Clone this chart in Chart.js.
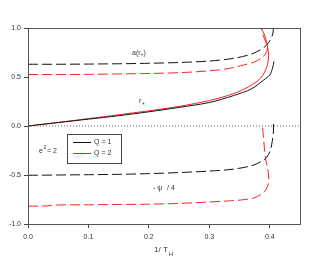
<!DOCTYPE html>
<html>
<head>
<meta charset="UTF-8">
<title>1/T_H plot</title>
<script src="https://cdn.jsdelivr.net/npm/chart.js"></script>
<style>
  body { margin: 0; background: #fff; }
  canvas { display: block; }
</style>
</head>
<body>
<canvas id="chart" width="326" height="261"></canvas>
<script>
    // r+ (solid)
    const rQ1x = [0, 0.05, 0.1, 0.15, 0.2, 0.25, 0.3, 0.34, 0.37, 0.39, 0.4, 0.405, 0.407];
    const rQ1y = [0, 0.035, 0.07, 0.105, 0.145, 0.19, 0.24, 0.31, 0.38, 0.47, 0.52, 0.6, 0.66];
    const rQ2x = [0, 0.05, 0.1, 0.15, 0.2, 0.25, 0.3, 0.34, 0.365, 0.385, 0.395, 0.398, 0.395, 0.39, 0.385];
    const rQ2y = [0, 0.037, 0.075, 0.115, 0.155, 0.2, 0.26, 0.33, 0.4, 0.49, 0.6, 0.72, 0.85, 0.95, 1.0];

    // a(r+) (dashed)
    const aQ1x = [0, 0.05, 0.1, 0.15, 0.2, 0.25, 0.3, 0.34, 0.37, 0.39, 0.4, 0.405, 0.406];
    const aQ1y = [0.63, 0.63, 0.632, 0.635, 0.64, 0.648, 0.663, 0.69, 0.735, 0.8, 0.87, 0.94, 1.0];
    const aQ2x = [0, 0.05, 0.1, 0.15, 0.2, 0.25, 0.3, 0.33, 0.355, 0.375, 0.388, 0.395, 0.396, 0.393, 0.389, 0.386];
    const aQ2y = [0.525, 0.525, 0.527, 0.531, 0.536, 0.544, 0.563, 0.585, 0.62, 0.655, 0.7, 0.76, 0.8, 0.86, 0.93, 1.0];

    // -psi/4 (dashed)
    const pQ1x = [0, 0.05, 0.1, 0.15, 0.2, 0.25, 0.3, 0.34, 0.37, 0.385, 0.395, 0.401, 0.404, 0.406, 0.406];
    const pQ1y = [-0.503, -0.5, -0.497, -0.493, -0.486, -0.475, -0.46, -0.44, -0.405, -0.365, -0.32, -0.245, -0.16, -0.06, 0.03];
    const pQ2x = [0, 0.03, 0.05, 0.1, 0.15, 0.2, 0.25, 0.3, 0.33, 0.352, 0.373, 0.39, 0.396, 0.398, 0.398, 0.396, 0.393, 0.39, 0.388];
    const pQ2y = [-0.818, -0.816, -0.806, -0.804, -0.801, -0.798, -0.79, -0.775, -0.765, -0.755, -0.735, -0.68, -0.62, -0.57, -0.5, -0.42, -0.33, -0.15, 0.0];

    const xTicks = [0, 0.1, 0.2, 0.3, 0.4];
    const yTicks = [-1, -0.5, 0, 0.5, 1];
    const legendLabels = ['Q = 1', 'Q = 2'];

    const BLACK = '#111';
    const RED = '#ff2020';
    const DASH = [10, 4];
    const FONT = '"Liberation Sans", Arial, sans-serif';

    function pts(xs, ys) {
        return xs.map((x, i) => ({ x: x, y: ys[i] }));
    }

    function line(xs, ys, color, dash) {
        return {
            data: pts(xs, ys),
            borderColor: color,
            borderWidth: 1,
            borderDash: dash || [],
            pointRadius: 0,
            showLine: true,
            tension: 0.3,
            fill: false
        };
    }

    const datasets = [
        // dotted zero line
        {
            data: pts([0, 0.45], [0, 0]),
            borderColor: '#666',
            borderWidth: 1,
            borderDash: [1, 2],
            pointRadius: 0,
            showLine: true
        },
        line(aQ1x, aQ1y, BLACK, DASH),
        line(aQ2x, aQ2y, RED, DASH),
        line(pQ1x, pQ1y, BLACK, DASH),
        line(pQ2x, pQ2y, RED, DASH),
        line(rQ1x, rQ1y, BLACK),
        line(rQ2x, rQ2y, RED)
    ];

    // texts, frame and legend box
    const extras = {
        id: 'extras',
        afterDraw(chart) {
            const ctx = chart.ctx;
            const a = chart.chartArea;
            ctx.save();
            ctx.strokeStyle = '#555';
            ctx.lineWidth = 1;
            ctx.strokeRect(Math.round(a.left) + 0.5, Math.round(a.top) + 0.5,
                Math.round(a.right - a.left), Math.round(a.bottom - a.top));

            ctx.fillStyle = '#333';
            ctx.textBaseline = 'middle';
            ctx.textAlign = 'left';

            // a(r+)
            ctx.font = '7px ' + FONT;
            ctx.fillText('a(r', 132, 53);
            let w = ctx.measureText('a(r').width;
            ctx.font = '5px ' + FONT;
            ctx.fillText('+', 132 + w, 55);
            let w2 = ctx.measureText('+').width;
            ctx.font = '7px ' + FONT;
            ctx.fillText(')', 132 + w + w2, 53);

            // r+
            ctx.fillText('r', 139, 101);
            w = ctx.measureText('r').width;
            ctx.font = '5px ' + FONT;
            ctx.fillText('+', 139 + w + 0.5, 104);

            // e^2 = 2
            ctx.font = '7px ' + FONT;
            ctx.fillText('e', 39, 151);
            w = ctx.measureText('e').width;
            ctx.font = '5px ' + FONT;
            ctx.fillText('2', 39 + w + 0.5, 148);
            ctx.font = '7px ' + FONT;
            ctx.fillText('= 2', 47, 151);

            // -psi/4
            ctx.fillText('- \u03C8', 153, 188);
            ctx.fillText('/ 4', 167, 188);

            // x axis title
            ctx.font = '8px ' + FONT;
            ctx.fillText('1/ T', 154, 250);
            w = ctx.measureText('1/ T').width;
            ctx.font = '6px ' + FONT;
            ctx.fillText('H', 154 + w + 1, 254);

            // legend
            ctx.strokeStyle = '#444';
            ctx.strokeRect(67.5, 134.5, 54, 29);
            const cols = [BLACK, RED];
            ctx.font = '7px ' + FONT;
            legendLabels.forEach((lab, i) => {
                const y = 142.5 + i * 11;
                ctx.strokeStyle = cols[i];
                ctx.beginPath();
                ctx.moveTo(73, y);
                ctx.lineTo(91, y);
                ctx.stroke();
                ctx.fillText(lab, 94, y);
            });
            ctx.restore();
        }
    };

    new Chart(document.getElementById('chart'), {
        type: 'scatter',
        data: { datasets: datasets },
        options: {
            responsive: false,
            animation: false,
            layout: { padding: { left: 0, top: 28, right: 26, bottom: 0 } },
            plugins: { legend: { display: false }, tooltip: { enabled: false } },
            scales: {
                x: {
                    type: 'linear',
                    min: 0,
                    max: 0.45,
                    afterBuildTicks: s => { s.ticks = xTicks.map(v => ({ value: v })); },
                    afterFit: s => { s.height = 37; },
                    grid: { drawOnChartArea: false, drawTicks: true, tickLength: 4, color: '#444' },
                    border: { display: true, color: '#444' },
                    ticks: {
                        padding: 5,
                        color: '#333',
                        font: { size: 7, family: FONT },
                        maxRotation: 0,
                        callback: v => v.toFixed(1)
                    }
                },
                y: {
                    type: 'linear',
                    min: -1,
                    max: 1,
                    afterBuildTicks: s => { s.ticks = yTicks.map(v => ({ value: v })); },
                    afterFit: s => { s.width = 28; },
                    grid: { drawOnChartArea: false, drawTicks: true, tickLength: 4, color: '#444' },
                    border: { display: true, color: '#444' },
                    ticks: {
                        padding: 3,
                        color: '#333',
                        font: { size: 7, family: FONT },
                        callback: v => v.toFixed(1)
                    }
                }
            }
        },
        plugins: [extras]
    });
</script>
</body>
</html>
